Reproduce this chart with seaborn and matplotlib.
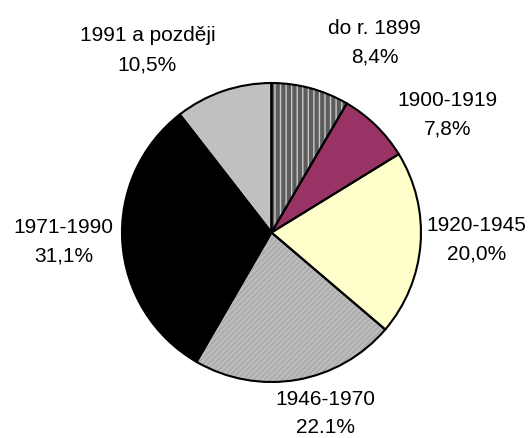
import matplotlib
matplotlib.use('Agg')
import matplotlib.pyplot as plt
import seaborn as sns

sns.set_style('white')
plt.rcParams['font.family'] = ['Liberation Sans', 'DejaVu Sans']

# data (clockwise from 12 o'clock)
periods = ['do r. 1899', '1900-1919', '1920-1945', '1946-1970', '1971-1990', '1991 a později']
shares = [8.4, 7.8, 20.0, 22.1, 31.1, 10.5]
share_labels = ['8,4%', '7,8%', '20,0%', '22.1%', '31,1%', '10,5%']

colors = ['#5c5c5c', '#993366', '#ffffcc', '#bcbcbc', '#000000', '#c0c0c0']
hatches = ['|||', None, None, '//////', None, None]
hatch_colors = ['#c8c8c8', None, None, '#a8a8a8', None, None]
# label centres in pie-radius units (layout only)
label_pos = [(0.69, 1.27), (1.18, 0.79), (1.37, -0.05), (0.36, -1.21), (-1.39, -0.06), (-0.83, 1.22)]

fig = plt.figure(figsize=(5.31, 4.38), dpi=100)
ax = fig.add_axes([0.2269, 0.1244, 0.5687, 0.6895])

wedges, _ = ax.pie(shares, colors=colors, startangle=90, counterclock=False,
                   wedgeprops=dict(linewidth=0))
for w, h, hc in zip(wedges, hatches, hatch_colors):
    if h:
        w.set_hatch(h)
        w.set_edgecolor(hc)
        w.set_linewidth(0)
# outlines on top
ax.pie(shares, colors=['none'] * len(shares), startangle=90, counterclock=False,
       wedgeprops=dict(linewidth=1.5, edgecolor='black', fill=False))
ax.set_xlim(-1.01, 1.01)
ax.set_ylim(-1.01, 1.01)
ax.set_aspect('equal')

for name, lab, (x, y) in zip(periods, share_labels, label_pos):
    ax.text(x, y, name + '\n' + lab, ha='center', va='center', clip_on=False,
            fontsize=15, linespacing=1.65, color='black')

fig.savefig('out.png', dpi=100)
